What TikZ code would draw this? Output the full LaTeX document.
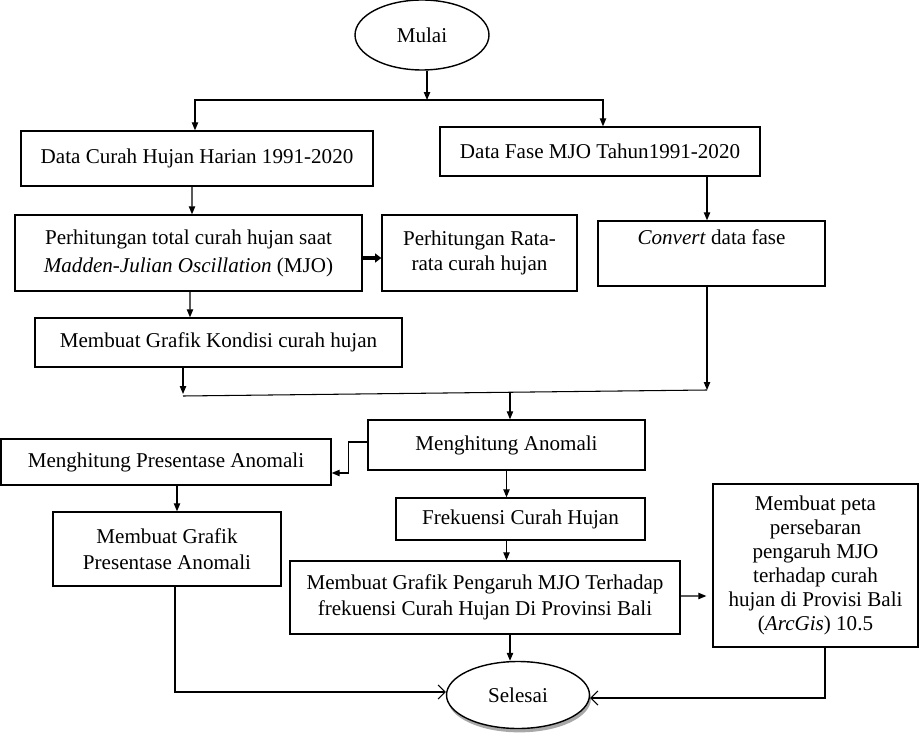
\documentclass[tikz,border=0pt]{standalone}
\usepackage{fontspec}
\setmainfont{Liberation Serif}
\usepackage{tikz}
\usetikzlibrary{arrows.meta,shapes.geometric,shadows,calc,positioning}
\tikzset{
  kotak/.style={draw=black,line width=0.8pt,align=center,inner sep=2pt,font=\fontsize{12}{14.5}\selectfont},
  elips/.style={ellipse,draw=black,line width=0.8pt,fill=white,font=\fontsize{12}{14.5}\selectfont},
  panah/.style={-{Triangle[length=4.5pt,width=3.6pt]},line width=0.6pt},
  panahbuka/.style={-{Straight Barb[length=4pt,width=8pt]},line width=0.6pt},
  panahtebal/.style={-{Triangle[length=3.5pt,width=5pt]},line width=2.4pt}
}
\begin{document}
\begin{tikzpicture}[x=0.02cm,y=-0.02cm]
\useasboundingbox (0,0) rectangle (919,733);
\node[elips,minimum width=2.68cm,minimum height=1.4cm] (mulai) at (422,35) {Mulai};
\node[kotak,minimum width=7.04cm,minimum height=1.1cm] (dataCH) at (197,158.5) {Data Curah Hujan Harian 1991-2020};
\node[kotak,minimum width=6.4cm,minimum height=0.98cm] (dataMJO) at (600,151.5) {Data Fase MJO Tahun1991-2020};
\node[kotak,minimum width=6.94cm,minimum height=1.52cm,font=\fontsize{12}{16}\selectfont] (total) at (188.5,253) {Perhitungan total curah hujan saat\\\textit{Madden-Julian Oscillation} (MJO)};
\node[kotak,minimum width=3.9cm,minimum height=1.52cm] (rata) at (479.5,253) {Perhitungan Rata-\\rata curah hujan};
\node[kotak,minimum width=4.54cm,minimum height=1.3cm] (convert) at (711.5,253.5) {\textit{Convert} data fase\\ \strut};
\node[kotak,minimum width=7.34cm,minimum height=0.98cm] (grafikKondisi) at (218.5,342.5) {Membuat Grafik Kondisi curah hujan};
\node[kotak,minimum width=5.54cm,minimum height=1.0cm] (anomali) at (506.5,445) {Menghitung Anomali};
\node[kotak,minimum width=6.6cm,minimum height=0.92cm] (presentase) at (166,462) {Menghitung Presentase Anomali};
\node[kotak,minimum width=4.56cm,minimum height=1.48cm] (grafikPresentase) at (167,549) {Membuat Grafik\\Presentase Anomali};
\node[kotak,minimum width=4.98cm,minimum height=0.84cm] (frekuensi) at (520.5,519) {Frekuensi Curah Hujan};
\node[kotak,minimum width=7.8cm,minimum height=1.46cm] (pengaruh) at (485,597.5) {Membuat Grafik Pengaruh MJO Terhadap\\frekuensi Curah Hujan Di Provinsi Bali};
\node[kotak,minimum width=4.1cm,minimum height=3.26cm,font=\fontsize{12}{13.6}\selectfont] (peta) at (815.5,565.5) {Membuat peta\\persebaran\\pengaruh MJO\\terhadap curah\\hujan di Provisi Bali\\(\textit{ArcGis}) 10.5};
\node[elips,minimum width=2.86cm,minimum height=1.34cm,drop shadow={shadow xshift=0.8pt,shadow yshift=-2.2pt,fill=gray!75,opacity=0.9}] (selesai) at (518,695) {Selesai};
\coordinate (cabang) at (427,100);
\coordinate (gabungKiri) at (183,396);
\coordinate (gabungKanan) at (707,390);
\coordinate (turun) at ($(gabungKiri)!0.624!(gabungKanan)$);
\draw[panah] (mulai.south -| cabang) -- (cabang);
\draw[panah] (cabang) -| ($(dataCH.north)+(-2,0)$);
\draw[panah] (cabang) -| ($(dataMJO.north)+(3,0)$);
\draw[panah] ($(dataCH.south)+(-5,0)$) -- ($(total.north)+(3.5,0)$);
\draw[panah] ($(dataMJO.south)+(107,0)$) -- ($(convert.north)+(-4.5,0)$);
\draw[panahtebal] ($(total.east)+(0,5)$) -- ($(rata.west)+(0,5)$);
\draw[panah] ($(total.south)+(1.5,0)$) -- ($(grafikKondisi.north)+(-28.5,0)$);
\draw[panah] ($(grafikKondisi.south)+(-35.5,0)$) -- ($(gabungKiri)+(0,-2)$);
\draw[panah] ($(convert.south)+(-4.5,0)$) -- (gabungKanan);
\draw[line width=0.6pt] (gabungKiri) -- (gabungKanan);
\draw[panah] (turun) -- (turun |- anomali.north);
\draw[panah] ($(anomali.west)+(0,-3)$) -- ++(-19,0) |- ($(presentase.east)+(0,11)$);
\draw[panah] ($(presentase.south)+(11,0)$) -- ($(grafikPresentase.north)+(10,0)$);
\draw[panahbuka] ($(grafikPresentase.south)+(8,0)$) |- ($(selesai.west)+(0,-3)$);
\draw[panah] (anomali.south) -- (anomali.south |- frekuensi.north);
\draw[panah] (anomali.south |- frekuensi.south) -- (anomali.south |- pengaruh.north);
\draw[panah] ($(pengaruh.south)+(25,0)$) -- ($(selesai.north)+(-8,0)$);
\draw[panah] ($(pengaruh.east)+(0,-1.5)$) -- ($(peta.west)+(-6,30.5)$);
\draw[panahbuka] ($(peta.south)+(9.5,0)$) |- ($(selesai.east)+(0,3)$);
\end{tikzpicture}
\end{document}
